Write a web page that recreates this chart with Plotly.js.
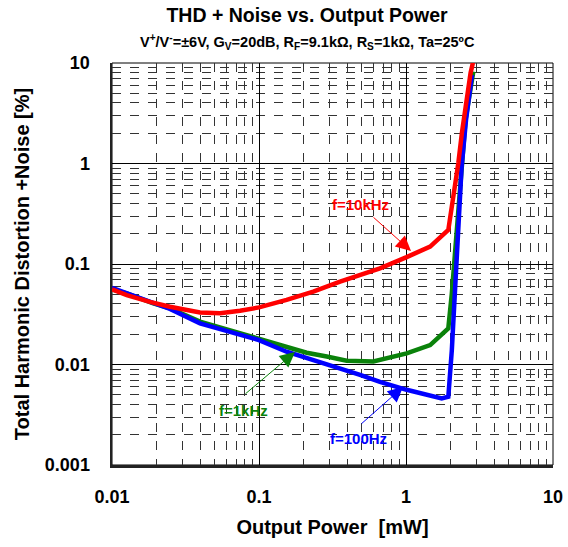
<!DOCTYPE html>
<html>
<head>
<meta charset="utf-8">
<script src="https://cdn.plot.ly/plotly-3.0.1.min.js"></script>
<style>html,body{margin:0;padding:0;background:#fff;}#chart{width:568px;height:547px;}</style>
</head>
<body>
<div id="chart"></div>
<script>
// Data (Output Power [mW] vs THD+N [%])
const red10kX = [0.01, 0.0126, 0.0181, 0.0248, 0.0397, 0.0543, 0.0743, 0.1, 0.154, 0.234, 0.356, 0.487, 0.665, 1.01, 1.46, 1.94, 2.06, 2.27, 2.40, 2.56, 2.75, 2.90];
const red10kY = [0.056, 0.049, 0.042, 0.0376, 0.033, 0.0323, 0.0343, 0.037, 0.0439, 0.053, 0.0667, 0.0778, 0.0906, 0.117, 0.149, 0.218, 0.386, 1.01, 2.01, 4.0, 7.95, 11.2];

const green1kX = [0.01, 0.0126, 0.0191, 0.0248, 0.0397, 0.0515, 0.0743, 0.1, 0.154, 0.211, 0.289, 0.395, 0.60, 1.01, 1.46, 1.94, 2.05, 2.14, 2.27, 2.39, 2.54, 2.87];
const green1kY = [0.056, 0.051, 0.0406, 0.0362, 0.0267, 0.0238, 0.0207, 0.0179, 0.0148, 0.0131, 0.0120, 0.0109, 0.0107, 0.0129, 0.0156, 0.0229, 0.051, 0.11, 0.296, 0.93, 2.71, 8.2];

const blue100X = [0.01, 0.0126, 0.0181, 0.0248, 0.0397, 0.0743, 0.1, 0.154, 0.234, 0.356, 0.487, 0.665, 1.01, 1.75, 1.94, 2.05, 2.14, 2.27, 2.39, 2.56, 2.81];
const blue100Y = [0.058, 0.051, 0.042, 0.0357, 0.0257, 0.0197, 0.0175, 0.0134, 0.0111, 0.00916, 0.00787, 0.0067, 0.0056, 0.0046, 0.00477, 0.0139, 0.0438, 0.2, 0.93, 2.71, 7.6];

const xTickVals = [0.01, 0.1, 1, 10];
const xTickText = ['0.01', '0.1', '1', '10'];
const yTickVals = [0.001, 0.01, 0.1, 1, 10];
const yTickText = ['0.001', '0.01', '0.1', '1', '10'];

const FONT = 'Liberation Sans, Arial, sans-serif';

const traces = [
  {x: green1kX, y: green1kY, mode: 'lines', line: {color: '#0a820a', width: 4.5}, name: 'f=1kHz', hoverinfo: 'skip'},
  {x: blue100X, y: blue100Y, mode: 'lines', line: {color: '#0000ff', width: 4.5}, name: 'f=100Hz', hoverinfo: 'skip'},
  {x: red10kX, y: red10kY, mode: 'lines', line: {color: '#ff0000', width: 4.5}, name: 'f=10kHz', hoverinfo: 'skip'}
];

const axisCommon = {
  type: 'log',
  showgrid: true,
  gridcolor: '#000',
  gridwidth: 1,
  showline: true,
  linecolor: '#222',
  linewidth: 2.5,
  ticks: '',
  zeroline: false,
  tickfont: {family: FONT, size: 18, color: '#000', weight: 'bold'},
  minor: {showgrid: true, gridcolor: '#333', griddash: 'dash', gridwidth: 1, dtick: 'D1'}
};

const layout = {
  width: 568, height: 547,
  margin: {l: 112, r: 15, t: 63, b: 82},
  paper_bgcolor: '#fff', plot_bgcolor: '#fff',
  showlegend: false,
  font: {family: FONT, color: '#000'},
  title: {
    text: '<b>THD + Noise vs. Output Power</b>',
    font: {family: FONT, size: 19.5, color: '#000'},
    x: 307 / 568, xanchor: 'center', xref: 'container',
    y: 1 - 15 / 547, yanchor: 'middle', yref: 'container'
  },
  xaxis: Object.assign({}, axisCommon, {
    range: [-2, 1],
    tickvals: xTickVals, ticktext: xTickText,
    ticklabelstandoff: 14,
    title: {text: '<b>Output Power  [mW]</b>', font: {family: FONT, size: 20, color: '#000'}, standoff: 14}
  }),
  yaxis: Object.assign({}, axisCommon, {
    range: [-3, 1],
    tickvals: yTickVals, ticktext: yTickText,
    ticklabelstandoff: 16,
    title: {text: '<b>Total Harmonic Distortion +Noise [%]</b>', font: {family: FONT, size: 20, color: '#000'}, standoff: 10}
  }),
  shapes: [
    {type: 'rect', xref: 'paper', yref: 'paper', x0: 0, x1: 1, y0: 0, y1: 1, line: {color: '#000', width: 1}, fillcolor: 'rgba(0,0,0,0)', layer: 'below'}
  ],
  annotations: [
    {xref: 'paper', yref: 'paper', x: (307 - 112) / 441, y: (465 - 42) / 402, xanchor: 'center', yanchor: 'middle', showarrow: false,
     text: '<b>V<sup>+</sup>/V<sup>-</sup>=±6V, G<sub>V</sub>=20dB, R<sub>F</sub>=9.1kΩ, R<sub>S</sub>=1kΩ, Ta=25ºC</b>',
     font: {family: FONT, size: 14.5, color: '#000'}},
    // f=10kHz
    {xref: 'paper', yref: 'paper', x: (360 - 112) / 441, y: (465 - 205) / 402, showarrow: false, xanchor: 'center', yanchor: 'middle',
     text: '<b>f=10kHz</b>', font: {family: FONT, size: 15, color: '#ff0000'}},
    {xref: 'paper', yref: 'paper', x: (411 - 112) / 441, y: (465 - 251) / 402, text: '', showarrow: true,
     ax: -39, ay: -35, arrowcolor: '#ff0000', arrowwidth: 1, arrowhead: 2, arrowsize: 3, standoff: 0},
    // f=1kHz
    {xref: 'paper', yref: 'paper', x: (243 - 112) / 441, y: (465 - 410) / 402, showarrow: false, xanchor: 'center', yanchor: 'middle',
     text: '<b>f=1kHz</b>', font: {family: FONT, size: 15, color: '#0a820a'}},
    {xref: 'paper', yref: 'paper', x: (295 - 112) / 441, y: (465 - 352) / 402, text: '', showarrow: true,
     ax: -51, ay: 43, arrowcolor: '#0a820a', arrowwidth: 1, arrowhead: 2, arrowsize: 3, standoff: 0},
    // f=100Hz
    {xref: 'paper', yref: 'paper', x: (358 - 112) / 441, y: (465 - 438) / 402, showarrow: false, xanchor: 'center', yanchor: 'middle',
     text: '<b>f=100Hz</b>', font: {family: FONT, size: 15, color: '#0000ff'}},
    {xref: 'paper', yref: 'paper', x: (403 - 112) / 441, y: (465 - 387) / 402, text: '', showarrow: true,
     ax: -43, ay: 38, arrowcolor: '#0000ff', arrowwidth: 1, arrowhead: 2, arrowsize: 3, standoff: 0}
  ]
};

Plotly.newPlot('chart', traces, layout, {staticPlot: true, displayModeBar: false});
</script>
</body>
</html>
